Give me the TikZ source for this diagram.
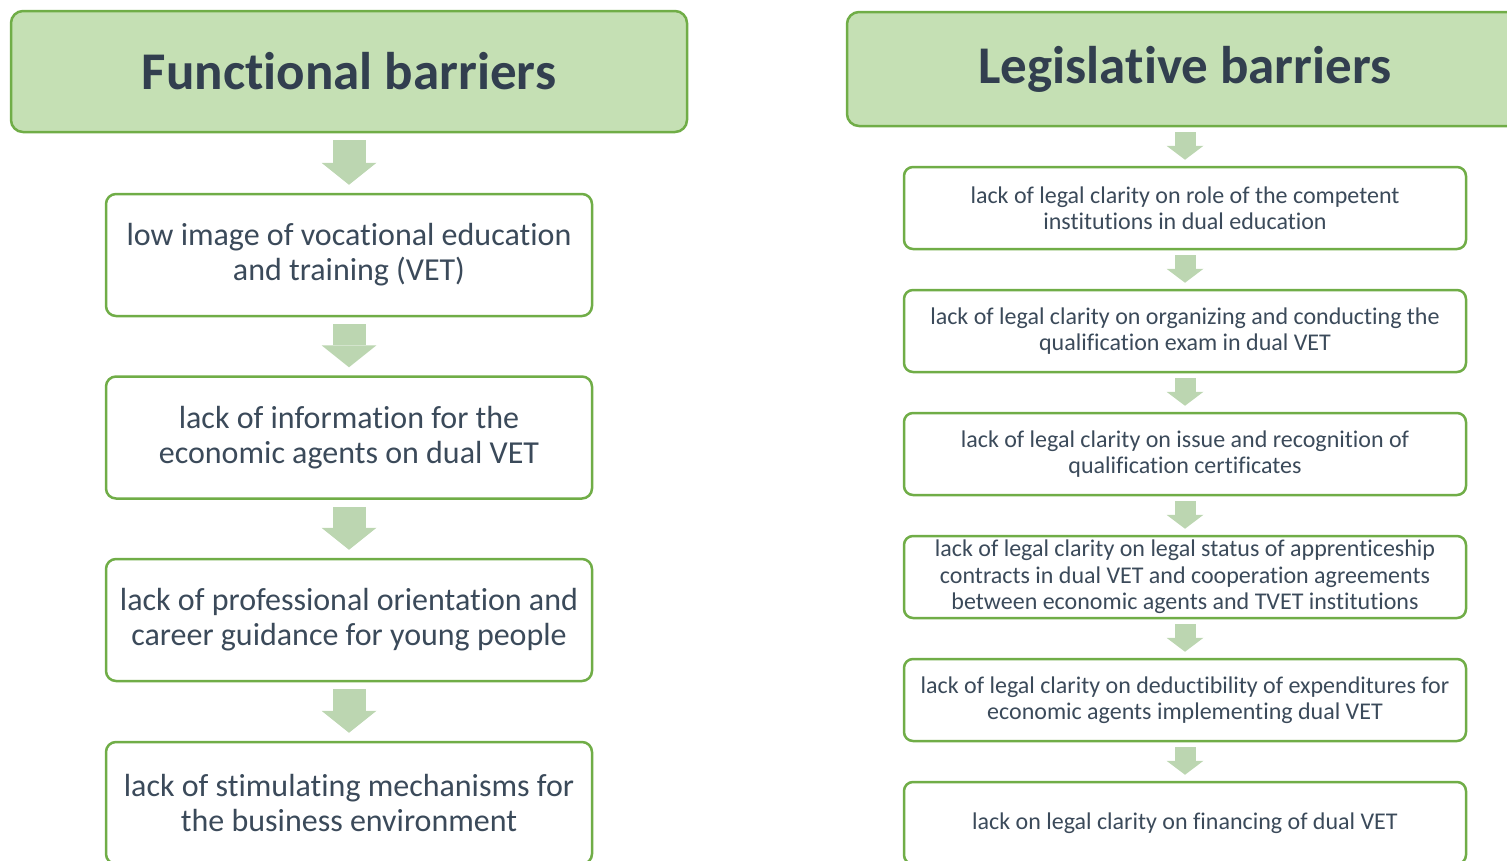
\documentclass[tikz,border=0pt]{standalone}
\usepackage{fontspec}
\setmainfont{Carlito}[Ligatures=NoCommon]
\usetikzlibrary{arrows.meta}
\definecolor{bordergreen}{HTML}{70AD47}
\definecolor{titlefill}{HTML}{C5E0B4}
\definecolor{arrowgreen}{HTML}{BCD6B1}
\definecolor{boxtext}{HTML}{3B4A5A}
\definecolor{titletext}{HTML}{323F4F}
\tikzset{
  titlebox/.style={draw=bordergreen, line width=2.5pt, fill=titlefill, rounded corners=12pt,
    minimum width=676pt, minimum height=#1, inner sep=0pt, text=titletext,
    font=\fontsize{53}{60}\selectfont\bfseries},
  bigbox/.style={draw=bordergreen, line width=2.5pt, fill=white, rounded corners=10pt,
    minimum width=486pt, minimum height=122pt, inner sep=0pt, align=center, text=boxtext,
    font=\fontsize{32}{35}\selectfont},
  smallbox/.style={draw=bordergreen, line width=2.5pt, fill=white, rounded corners=9pt,
    minimum width=562pt, minimum height=82pt, inner sep=0pt, align=center, text=boxtext,
    font=\fontsize{24}{26.5}\selectfont},
  bigarrow/.style={draw=arrowgreen, line width=33pt,
    -{Triangle[width=55pt,length=22pt,line width=0pt]}, shorten <=7pt, shorten >=8pt},
  smallarrow/.style={draw=arrowgreen, line width=21pt,
    -{Triangle[width=37pt,length=14pt,line width=0pt]}, shorten <=5pt, shorten >=6pt},
}
\begin{document}
\begin{tikzpicture}[x=1pt,y=-1pt]
\useasboundingbox (0,0) rectangle (1507,860);
\clip (0,0) rectangle (1507,860);
% left column
\node[titlebox=121pt] (lt) at (349,71.5) {Functional barriers};
\node[bigbox] (l1) at (349,255) {low image of vocational education\\and training (VET)};
\node[bigbox] (l2) at (349,437.5) {lack of information for the\\economic agents on dual VET};
\node[bigbox] (l3) at (349,620) {lack of professional orientation and\\career guidance for young people};
\node[bigbox] (l4) at (349,803) {lack of stimulating mechanisms for\\the business environment};
\draw[bigarrow] (lt.south) -- (l1.north);
\draw[bigarrow] (l1.south) -- (l2.north);
\draw[bigarrow] (l2.south) -- (l3.north);
\draw[bigarrow] (l3.south) -- (l4.north);
% right column
\node[titlebox=114pt] (rt) at (1185,69) {Legislative barriers};
\node[smallbox] (r1) at (1185,208) {lack of legal clarity on role of the competent\\institutions in dual education};
\node[smallbox] (r2) at (1185,331) {lack of legal clarity on organizing and conducting the\\qualification exam in dual VET};
\node[smallbox] (r3) at (1185,454) {lack of legal clarity on issue and recognition of\\qualification certificates};
\node[smallbox] (r4) at (1185,577) {lack of legal clarity on legal status of apprenticeship\\contracts in dual VET and cooperation agreements\\between economic agents and TVET institutions};
\node[smallbox] (r5) at (1185,700) {lack of legal clarity on deductibility of expenditures for\\economic agents implementing dual VET};
\node[smallbox] (r6) at (1185,823) {lack on legal clarity on financing of dual VET};
\draw[smallarrow] (rt.south) -- (r1.north);
\draw[smallarrow] (r1.south) -- (r2.north);
\draw[smallarrow] (r2.south) -- (r3.north);
\draw[smallarrow] (r3.south) -- (r4.north);
\draw[smallarrow] (r4.south) -- (r5.north);
\draw[smallarrow] (r5.south) -- (r6.north);
\end{tikzpicture}
\end{document}
